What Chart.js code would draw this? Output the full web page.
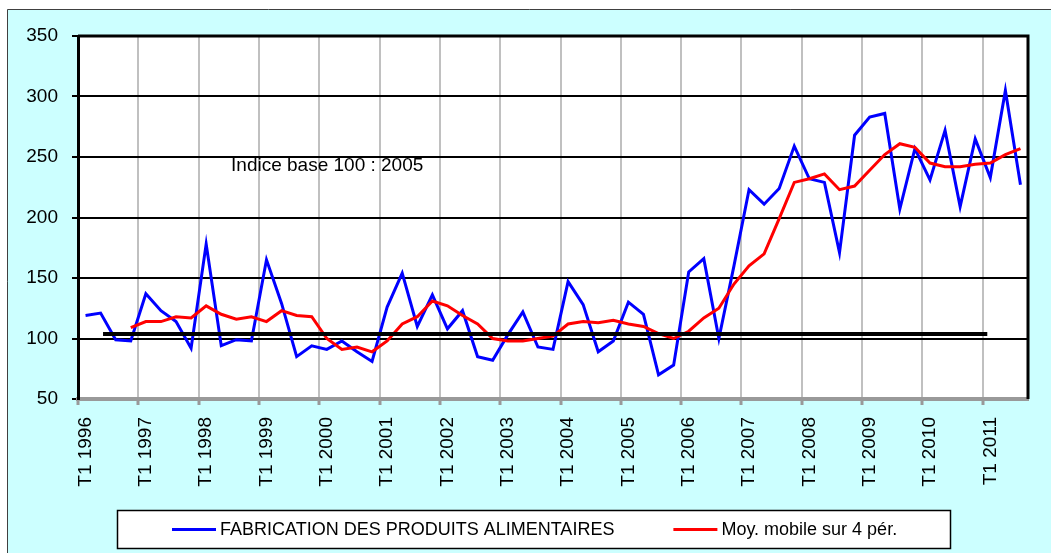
<!DOCTYPE html>
<html lang="fr">
<head>
<meta charset="utf-8">
<title>Fabrication des produits alimentaires</title>
<script src="https://cdn.jsdelivr.net/npm/chart.js@4.4.1/dist/chart.umd.min.js"></script>
<style>
  html, body { margin: 0; padding: 0; background: #ffffff; }
  #wrap { width: 1051px; height: 553px; }
</style>
</head>
<body>
<div id="wrap"><canvas id="chart" width="1051" height="553"></canvas></div>
<script>
// Quarters T1 1996 .. T3 2011
const years = [1996, 1997, 1998, 1999, 2000, 2001, 2002, 2003,
  2004, 2005, 2006, 2007, 2008, 2009, 2010, 2011];
const quarterNames = ['T1', 'T2', 'T3', 'T4'];
const lastYearQuarters = 3;

// Indice base 100 : 2005
const production = [
  119, 121, 99, 98, 137, 123, 114, 92, 178, 94, 99, 98, 165, 129, 85, 94,
  91, 98, 89, 81, 126, 154, 110, 136, 108, 123, 85, 82, 103, 122, 93, 91,
  147, 128, 89, 98, 130, 120, 70, 78, 155, 166, 100, 160, 223, 211, 224, 259,
  232, 229, 171, 268, 283, 286, 207, 257, 231, 272, 209, 265, 233, 305, 227,
];

const movingAverage = [
  null, null, null, 109, 114, 114, 118, 117, 127, 120, 116, 118, 114, 123, 119, 118,
  100, 91, 93, 89, 98, 112, 118, 131, 127, 119, 112, 100, 98, 98, 100, 102,
  112, 114, 113, 115, 112, 110, 104, 100, 106, 117, 125, 145, 160, 170, 199, 229,
  232, 236, 223, 226, 239, 252, 261, 258, 245, 242, 242, 244, 245, 252, 257,
];

// horizontal reference line (start / end position in quarters, level)
const referenceSpan = [1.16, 59.8];
const referenceLevel = 103.7;

const seriesNames = ['FABRICATION DES PRODUITS ALIMENTAIRES', 'Moy. mobile sur 4 pér.'];
const yTicks = [50, 100, 150, 200, 250, 300, 350];
const noteText = 'Indice base 100 : 2005';

const FONT = "'Liberation Sans', Arial, sans-serif";

/**
 * Builds the quarter labels ("T1 1996", ...)
 * @returns {string[]}
 */
function buildLabels() {
  const labels = [];
  years.forEach((year, i) => {
    const count = i === years.length - 1 ? lastYearQuarters : 4;
    for (let q = 0; q < count; q++) {
      labels.push(`${quarterNames[q]} ${year}`);
    }
  });
  return labels;
}

const labels = buildLabels();

// Cyan frame, white plot area
const backgroundPlugin = {
  id: 'frame',
  beforeDraw(chart) {
    const { ctx, chartArea } = chart;
    ctx.save();
    ctx.fillStyle = '#ffffff';
    ctx.fillRect(0, 0, chart.width, chart.height);
    ctx.fillStyle = '#ccffff';
    ctx.fillRect(7, 9, chart.width - 7, chart.height - 9);
    ctx.strokeStyle = '#404040';
    ctx.lineWidth = 1;
    ctx.beginPath();
    ctx.moveTo(7.5, chart.height);
    ctx.lineTo(7.5, 9.5);
    ctx.lineTo(chart.width, 9.5);
    ctx.stroke();
    ctx.fillStyle = '#ffffff';
    ctx.fillRect(chartArea.left, chartArea.top, chartArea.right - chartArea.left,
      chartArea.bottom - chartArea.top);
    ctx.restore();
  },
};

// Top / right border, note text and boxed legend
const overlayPlugin = {
  id: 'overlay',
  afterDraw(chart) {
    const { ctx, chartArea, scales } = chart;
    ctx.save();

    ctx.strokeStyle = '#000000';
    ctx.lineWidth = 3;
    ctx.beginPath();
    ctx.moveTo(chartArea.left, chartArea.top);
    ctx.lineTo(chartArea.right, chartArea.top);
    ctx.lineTo(chartArea.right, chartArea.bottom);
    ctx.stroke();

    // note
    ctx.fillStyle = '#000000';
    ctx.font = `19px ${FONT}`;
    ctx.textAlign = 'left';
    ctx.textBaseline = 'middle';
    ctx.fillText(noteText, scales.x2.getPixelForValue(9.65), scales.y.getPixelForValue(243));

    // legend
    const box = { left: 117.5, top: 510.5, right: 950.5, bottom: 548.5 };
    ctx.fillStyle = '#ffffff';
    ctx.fillRect(box.left, box.top, box.right - box.left, box.bottom - box.top);
    ctx.lineWidth = 1.5;
    ctx.strokeStyle = '#000000';
    ctx.strokeRect(box.left, box.top, box.right - box.left, box.bottom - box.top);

    ctx.font = `18px ${FONT}`;
    const midY = (box.top + box.bottom) / 2;
    let x = 172;
    chart.data.datasets.slice(0, 2).forEach((ds) => {
      ctx.strokeStyle = ds.borderColor;
      ctx.lineWidth = 3;
      ctx.beginPath();
      ctx.moveTo(x, midY);
      ctx.lineTo(x + 44, midY);
      ctx.stroke();
      ctx.fillStyle = '#000000';
      ctx.fillText(ds.label, x + 48, midY + 1);
      x += 48 + ctx.measureText(ds.label).width + 59;
    });

    ctx.restore();
  },
};

const ctx = document.getElementById('chart').getContext('2d');

new Chart(ctx, {
  type: 'line',
  data: {
    labels,
    datasets: [
      {
        label: seriesNames[0],
        data: production,
        borderColor: '#0000ff',
        borderWidth: 3,
        pointRadius: 0,
        tension: 0,
        order: 2,
      },
      {
        label: seriesNames[1],
        data: movingAverage,
        borderColor: '#ff0000',
        borderWidth: 3,
        pointRadius: 0,
        tension: 0,
        order: 1,
      },
      {
        label: 'base',
        data: referenceSpan.map((v) => ({ x: v, y: referenceLevel })),
        xAxisID: 'x2',
        borderColor: '#000000',
        borderWidth: 4,
        pointRadius: 0,
        order: 0,
      },
    ],
  },
  options: {
    responsive: false,
    animation: false,
    layout: { padding: { top: 36, right: 23, left: 0, bottom: 0 } },
    plugins: {
      legend: { display: false },
      tooltip: { enabled: false },
    },
    scales: {
      x: {
        type: 'category',
        offset: true,
        afterFit(scale) {
          scale.height = 154;
          // rotated labels must not push the plot edges inwards
          scale.paddingLeft = 0;
          scale.paddingRight = 0;
        },
        grid: {
          offset: true,
          lineWidth: 2,
          color: (c) => (c.index % 4 === 0 && c.index > 0 ? '#c0c0c0' : 'rgba(0,0,0,0)'),
          tickLength: 6,
          tickWidth: 3,
          tickColor: (c) => (c.index % 4 === 0 ? '#999999' : 'rgba(0,0,0,0)'),
        },
        border: { color: '#999999', width: 4 },
        ticks: {
          autoSkip: false,
          minRotation: 90,
          maxRotation: 90,
          padding: 12,
          color: '#000000',
          font: { family: FONT, size: 19 },
          callback(value, index) {
            return index % 4 === 0 ? this.getLabelForValue(value) : '';
          },
        },
      },
      x2: {
        type: 'linear',
        display: false,
        min: -0.5,
        max: labels.length - 0.5,
      },
      y: {
        min: yTicks[0],
        max: yTicks[yTicks.length - 1],
        afterFit(scale) { scale.width = 78; },
        afterBuildTicks(scale) { scale.ticks = yTicks.map((v) => ({ value: v })); },
        grid: {
          color: '#000000',
          lineWidth: 2,
          tickLength: 6,
          tickColor: '#000000',
          tickWidth: 2,
        },
        border: { color: '#000000', width: 3 },
        ticks: {
          padding: 14,
          color: '#000000',
          font: { family: FONT, size: 19 },
        },
      },
    },
  },
  plugins: [backgroundPlugin, overlayPlugin],
});
</script>
</body>
</html>
